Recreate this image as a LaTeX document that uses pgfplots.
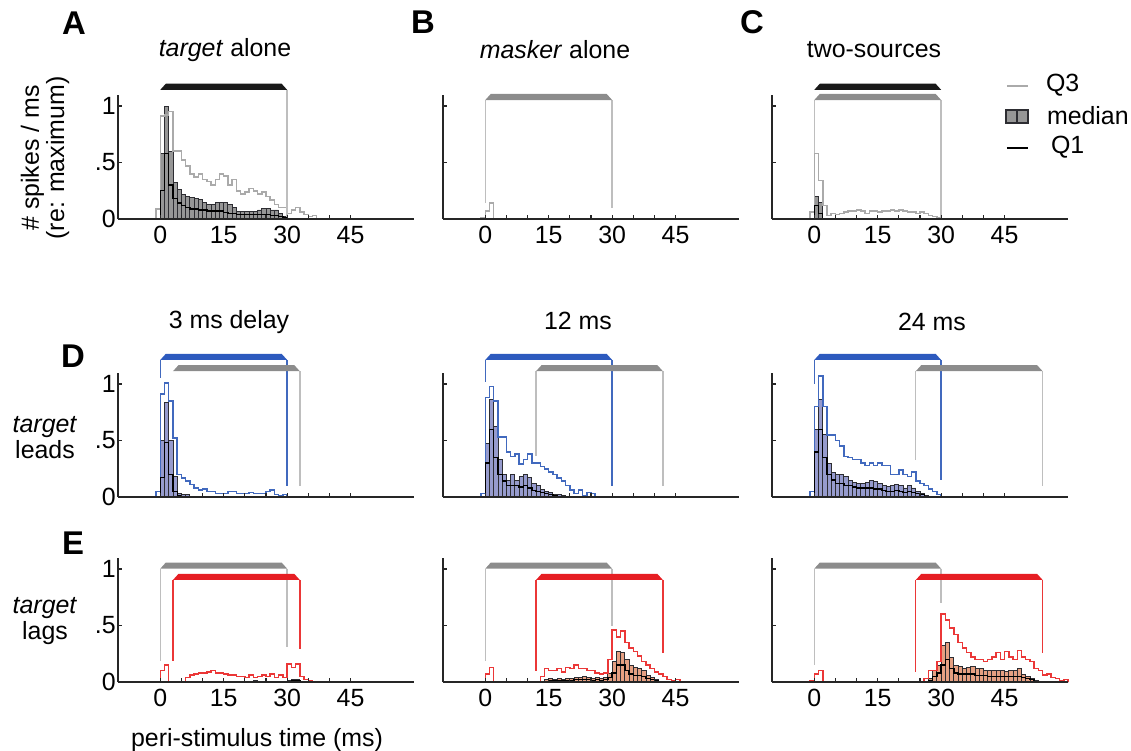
\documentclass[border=0pt]{standalone}
\usepackage{fontspec}
\setmainfont{Liberation Sans}
\usepackage{pgfplots}
\usepackage{pgfplotstable}
\pgfplotsset{compat=1.18}

\definecolor{q3gray}{RGB}{170,170,170}
\definecolor{medgray}{RGB}{150,150,150}
\definecolor{edge}{RGB}{45,45,50}
\definecolor{lgray}{RGB}{190,190,190}
\definecolor{sgray}{RGB}{140,140,140}
\definecolor{sblack}{RGB}{25,25,25}
\definecolor{bline}{RGB}{65,105,190}
\definecolor{bbar}{RGB}{45,90,190}
\definecolor{bfill}{RGB}{150,155,205}
\definecolor{rline}{RGB}{235,55,55}
\definecolor{rbar}{RGB}{230,30,35}
\definecolor{rfill}{RGB}{230,160,130}

\newcommand{\fs}{\fontsize{12.5}{13}\selectfont}

% histograms: bin left edge, Q3, median, Q1
\pgfplotstableread{
x q3 med q1
-2 0 0 0
-1 0.09 0 0
0 0.91 0.58 0.25
1 0.92 1.00 0.58
2 0.95 0.60 0.30
3 0.60 0.32 0.18
4 0.60 0.26 0.14
5 0.52 0.22 0.12
6 0.47 0.20 0.10
7 0.40 0.19 0.09
8 0.37 0.18 0.09
9 0.40 0.17 0.08
10 0.35 0.15 0.08
11 0.33 0.13 0.07
12 0.30 0.13 0.07
13 0.35 0.15 0.07
14 0.40 0.15 0.07
15 0.38 0.15 0.06
16 0.30 0.13 0.05
17 0.35 0.10 0.05
18 0.25 0.07 0.04
19 0.22 0.07 0.04
20 0.24 0.07 0.04
21 0.27 0.07 0.04
22 0.25 0.07 0.04
23 0.22 0.08 0.04
24 0.24 0.09 0.04
25 0.20 0.09 0.04
26 0.17 0.08 0.03
27 0.13 0.08 0.03
28 0.10 0.05 0.02
29 0.10 0.02 0.01
30 0.05 0 0
31 0.08 0 0
32 0.10 0 0
33 0.06 0 0
34 0.04 0 0
35 0.02 0 0
36 0.03 0 0
37 0 0 0
}\tA
\pgfplotstableread{
x q3 med q1
-2 0 0 0
-1 0.01 0 0
0 0.07 0 0
1 0.14 0 0
2 0 0 0
}\tB
\pgfplotstableread{
x q3 med q1
-2 0 0 0
-1 0.06 0 0
0 0.58 0.20 0.12
1 0.34 0.15 0.05
2 0.12 0 0
3 0.03 0 0
4 0.05 0 0
5 0.04 0 0
6 0.05 0 0
7 0.06 0 0
8 0.07 0 0
9 0.07 0 0
10 0.08 0 0
11 0.07 0 0
12 0.05 0 0
13 0.07 0 0
14 0.07 0 0
15 0.06 0 0
16 0.07 0 0
17 0.07 0 0
18 0.08 0 0
19 0.07 0 0
20 0.08 0 0
21 0.07 0 0
22 0.06 0 0
23 0.06 0 0
24 0.05 0 0
25 0.06 0 0
26 0.05 0 0
27 0.03 0 0
28 0.02 0 0
29 0.01 0 0
30 0 0 0
}\tC
\pgfplotstableread{
x q3 med q1
-2 0 0 0
-1 0.05 0 0
0 0.91 0.50 0.17
1 1.01 0.84 0.48
2 0.85 0.50 0.20
3 0.52 0.18 0.05
4 0.20 0.03 0.01
5 0.17 0.02 0
6 0.14 0.02 0
7 0.11 0 0
8 0.08 0 0
9 0.06 0 0
10 0.07 0 0
11 0.05 0 0
12 0.05 0 0
13 0.03 0 0
14 0.03 0 0
15 0.03 0 0
16 0.05 0 0
17 0.05 0 0
18 0.03 0 0
19 0.03 0 0
20 0.03 0 0
21 0.04 0 0
22 0.03 0 0
23 0.03 0 0
24 0.03 0 0
25 0.05 0 0
26 0.06 0 0
27 0.02 0 0
28 0.01 0 0
29 0.02 0 0
30 0 0 0
}\tDa
\pgfplotstableread{
x q3 med q1
-2 0 0 0
-1 0.03 0 0
0 0.88 0.47 0.30
1 0.98 0.86 0.60
2 0.85 0.62 0.35
3 0.53 0.33 0.20
4 0.53 0.20 0.14
5 0.40 0.15 0.10
6 0.36 0.20 0.10
7 0.38 0.15 0.10
8 0.29 0.18 0.09
9 0.33 0.20 0.10
10 0.38 0.17 0.08
11 0.30 0.12 0.06
12 0.30 0.10 0.05
13 0.27 0.07 0.04
14 0.25 0.05 0.03
15 0.22 0.04 0.02
16 0.20 0.02 0.01
17 0.17 0.02 0
18 0.14 0.01 0
19 0.10 0 0
20 0.06 0 0
21 0.03 0 0
22 0.06 0 0
23 0.01 0 0
24 0.04 0 0
25 0.03 0 0
26 0 0 0
}\tDb
\pgfplotstableread{
x q3 med q1
-2 0 0 0
-1 0.05 0 0
0 0.80 0.60 0.40
1 1.07 0.86 0.60
2 0.80 0.55 0.35
3 0.55 0.30 0.20
4 0.55 0.22 0.15
5 0.50 0.20 0.12
6 0.45 0.20 0.12
7 0.36 0.18 0.10
8 0.35 0.15 0.10
9 0.33 0.13 0.09
10 0.33 0.12 0.08
11 0.30 0.12 0.08
12 0.28 0.13 0.08
13 0.30 0.15 0.08
14 0.28 0.14 0.07
15 0.30 0.12 0.07
16 0.28 0.10 0.06
17 0.28 0.09 0.05
18 0.20 0.10 0.05
19 0.20 0.11 0.06
20 0.24 0.10 0.05
21 0.20 0.08 0.04
22 0.18 0.10 0.05
23 0.22 0.08 0.04
24 0.14 0.05 0.03
25 0.12 0.03 0.02
26 0.10 0.01 0
27 0.07 0 0
28 0.05 0 0
29 0.02 0 0
30 0 0 0
}\tDc
\pgfplotstableread{
x q3 med q1
-2 0 0 0
0 0.10 0 0
1 0.15 0 0
2 0 0 0
6 0.04 0 0
7 0.06 0 0
8 0.07 0 0
9 0.08 0 0
10 0.08 0 0
11 0.09 0 0
12 0.10 0 0
13 0.08 0 0
14 0.08 0 0
15 0.07 0 0
16 0.06 0 0
17 0.06 0 0
18 0.05 0 0
19 0.05 0 0
20 0.04 0 0
21 0.06 0 0
22 0.04 0.01 0
23 0.05 0 0
24 0.06 0 0
25 0.05 0 0
26 0.07 0 0
27 0.04 0 0
28 0.06 0 0
29 0.04 0 0
30 0.16 0.01 0
31 0.13 0.02 0.01
32 0.16 0.02 0.01
33 0.05 0 0
34 0.02 0 0
35 0.01 0 0
36 0 0 0
}\tEa
\pgfplotstableread{
x q3 med q1
-2 0 0 0
0 0.07 0 0
1 0.13 0 0
2 0 0 0
13 0.05 0 0
14 0.12 0.02 0
15 0.10 0.03 0.01
16 0.10 0.02 0.01
17 0.12 0.03 0.01
18 0.09 0.02 0.01
19 0.13 0.03 0.01
20 0.12 0.03 0.01
21 0.15 0.04 0.02
22 0.12 0.04 0.02
23 0.12 0.05 0.02
24 0.10 0.04 0.02
25 0.10 0.03 0.01
26 0.08 0.04 0.02
27 0.07 0.03 0.01
28 0.08 0.04 0.02
29 0.20 0.08 0.04
30 0.46 0.18 0.08
31 0.40 0.27 0.15
32 0.45 0.26 0.15
33 0.35 0.20 0.10
34 0.30 0.15 0.07
35 0.27 0.13 0.06
36 0.23 0.12 0.06
37 0.18 0.10 0.05
38 0.15 0.06 0.03
39 0.12 0.04 0.02
40 0.09 0.02 0.01
41 0.07 0 0
42 0.05 0 0
43 0.02 0 0
44 0.01 0 0
45 0.02 0 0
46 0 0 0
}\tEb
\pgfplotstableread{
x q3 med q1
-2 0 0 0
-1 0.01 0 0
0 0.07 0 0
1 0.10 0 0
2 0 0 0
26 0.03 0 0
27 0.10 0.03 0.01
28 0.10 0.10 0.05
29 0.18 0.15 0.08
30 0.60 0.32 0.15
31 0.55 0.35 0.20
32 0.48 0.22 0.12
33 0.42 0.15 0.08
34 0.35 0.14 0.07
35 0.30 0.12 0.07
36 0.26 0.13 0.07
37 0.22 0.14 0.07
38 0.20 0.12 0.06
39 0.20 0.12 0.06
40 0.18 0.10 0.06
41 0.20 0.10 0.05
42 0.22 0.10 0.05
43 0.26 0.10 0.05
44 0.20 0.10 0.05
45 0.27 0.09 0.05
46 0.22 0.10 0.05
47 0.20 0.10 0.05
48 0.28 0.12 0.05
49 0.22 0.07 0.04
50 0.20 0.05 0.03
51 0.18 0.03 0.02
52 0.12 0.01 0
53 0.10 0 0
54 0.06 0 0
55 0.07 0 0
56 0.04 0 0
57 0.03 0 0
58 0.01 0 0
59 0.02 0 0
60 0 0 0
}\tEc

\pgfplotsset{
  pan/.style={
    scale only axis, width=148bp, height=62.15bp,
    anchor=south west,
    xmin=-10, xmax=60, ymin=0, ymax=1.1,
    axis x line*=bottom, axis y line*=left,
    axis line style={-, line width=0.8bp, black!85},
    xtick={0,5,...,45}, xticklabels={0,,,15,,,30,,,45},
    ytick={0,0.5,1}, yticklabels={0,.5,1},
    tick align=inside, major tick length=2.2bp,
    tick style={black!85, line width=0.6bp},
    tick label style={font=\fs},
    yticklabel style={inner xsep=1bp},
    clip=false, axis on top,
  },
  nox/.style={xticklabels={}},
  noy/.style={yticklabels={}},
}

\newcommand{\hist}[3]{%
  \addplot[ybar interval, fill=#2, draw=edge, line width=0.45bp] table[x=x,y=med]{#1};
  \addplot[const plot, draw=#3, line width=0.75bp] table[x=x,y=q3]{#1};
  \addplot[const plot, draw=black, line width=0.7bp] table[x=x,y=q1]{#1};
}

\begin{document}
\begin{tikzpicture}
\useasboundingbox (0bp,0bp) rectangle (565.5bp,-375.5bp);
\clip (0bp,0bp) rectangle (565.5bp,-375.5bp);

% ---- row A-C
\begin{axis}[pan, at={(59bp,-109.5bp)}]
  \hist{\tA}{medgray}{q3gray}
  \addplot[lgray, line width=0.7bp] coordinates {(30,1.143) (30,0.02)};
  \addplot[draw=none, fill=sblack] coordinates {(0,1.143) (1.3,1.197) (28.7,1.197) (30,1.143)} -- cycle;
\end{axis}
\begin{axis}[pan, noy, at={(221.5bp,-109.5bp)}]
  \hist{\tB}{medgray}{q3gray}
  \addplot[lgray, line width=0.7bp] coordinates {(0,1.053) (0,0.14)};
  \addplot[lgray, line width=0.7bp] coordinates {(30,1.053) (30,0.10)};
  \addplot[draw=none, fill=sgray] coordinates {(0,1.053) (1.3,1.107) (28.7,1.107) (30,1.053)} -- cycle;
\end{axis}
\begin{axis}[pan, noy, at={(386bp,-109.5bp)}]
  \hist{\tC}{medgray}{q3gray}
  \addplot[lgray, line width=0.7bp] coordinates {(0,1.053) (0,0.58)};
  \addplot[lgray, line width=0.7bp] coordinates {(30,1.053) (30,0.015)};
  \addplot[draw=none, fill=sblack] coordinates {(0,1.143) (1.3,1.197) (28.7,1.197) (30,1.143)} -- cycle;
  \addplot[draw=none, fill=sgray] coordinates {(0,1.053) (1.3,1.107) (28.7,1.107) (30,1.053)} -- cycle;
\end{axis}

% ---- row D
\begin{axis}[pan, nox, at={(59bp,-248.5bp)}]
  \hist{\tDa}{bfill}{bline}
  \addplot[bline, line width=0.7bp] coordinates {(0,1.213) (0,1.05)};
  \addplot[bline, line width=0.7bp] coordinates {(30,1.213) (30,0.10)};
  \addplot[lgray, line width=0.7bp] coordinates {(33,1.113) (33,0.10)};
  \addplot[draw=none, fill=bbar] coordinates {(0,1.213) (1.3,1.267) (28.7,1.267) (30,1.213)} -- cycle;
  \addplot[draw=none, fill=sgray] coordinates {(3,1.113) (4.3,1.167) (31.7,1.167) (33,1.113)} -- cycle;
\end{axis}
\begin{axis}[pan, nox, noy, at={(221.5bp,-248.5bp)}]
  \hist{\tDb}{bfill}{bline}
  \addplot[bline, line width=0.7bp] coordinates {(0,1.213) (0,1.02)};
  \addplot[bline, line width=0.7bp] coordinates {(30,1.213) (30,0.10)};
  \addplot[lgray, line width=0.7bp] coordinates {(12,1.113) (12,0.36)};
  \addplot[lgray, line width=0.7bp] coordinates {(42,1.113) (42,0.10)};
  \addplot[draw=none, fill=bbar] coordinates {(0,1.213) (1.3,1.267) (28.7,1.267) (30,1.213)} -- cycle;
  \addplot[draw=none, fill=sgray] coordinates {(12,1.113) (13.3,1.167) (40.7,1.167) (42,1.113)} -- cycle;
\end{axis}
\begin{axis}[pan, nox, noy, at={(386bp,-248.5bp)}]
  \hist{\tDc}{bfill}{bline}
  \addplot[bline, line width=0.7bp] coordinates {(0,1.213) (0,1.00)};
  \addplot[bline, line width=0.7bp] coordinates {(30,1.213) (30,0.15)};
  \addplot[lgray, line width=0.7bp] coordinates {(24,1.113) (24,0.33)};
  \addplot[lgray, line width=0.7bp] coordinates {(54,1.113) (54,0.10)};
  \addplot[draw=none, fill=bbar] coordinates {(0,1.213) (1.3,1.267) (28.7,1.267) (30,1.213)} -- cycle;
  \addplot[draw=none, fill=sgray] coordinates {(24,1.113) (25.3,1.167) (52.7,1.167) (54,1.113)} -- cycle;
\end{axis}

% ---- row E
\begin{axis}[pan, at={(59bp,-341bp)}]
  \hist{\tEa}{rfill}{rline}
  \addplot[lgray, line width=0.7bp] coordinates {(0,1.003) (0,0.19)};
  \addplot[lgray, line width=0.7bp] coordinates {(30,1.003) (30,0.31)};
  \addplot[rline, line width=0.7bp] coordinates {(3,0.903) (3,0.19)};
  \addplot[rline, line width=0.7bp] coordinates {(33,0.903) (33,0.29)};
  \addplot[draw=none, fill=sgray] coordinates {(0,1.003) (1.3,1.057) (28.7,1.057) (30,1.003)} -- cycle;
  \addplot[draw=none, fill=rbar] coordinates {(3,0.903) (4.3,0.957) (31.7,0.957) (33,0.903)} -- cycle;
\end{axis}
\begin{axis}[pan, noy, at={(221.5bp,-341bp)}]
  \hist{\tEb}{rfill}{rline}
  \addplot[lgray, line width=0.7bp] coordinates {(0,1.003) (0,0.19)};
  \addplot[lgray, line width=0.7bp] coordinates {(30,1.003) (30,0.50)};
  \addplot[rline, line width=0.7bp] coordinates {(12,0.903) (12,0.10)};
  \addplot[rline, line width=0.7bp] coordinates {(42,0.903) (42,0.26)};
  \addplot[draw=none, fill=sgray] coordinates {(0,1.003) (1.3,1.057) (28.7,1.057) (30,1.003)} -- cycle;
  \addplot[draw=none, fill=rbar] coordinates {(12,0.903) (13.3,0.957) (40.7,0.957) (42,0.903)} -- cycle;
\end{axis}
\begin{axis}[pan, noy, at={(386bp,-341bp)}]
  \hist{\tEc}{rfill}{rline}
  \addplot[lgray, line width=0.7bp] coordinates {(0,1.003) (0,0.15)};
  \addplot[lgray, line width=0.7bp] coordinates {(30,1.003) (30,0.70)};
  \addplot[rline, line width=0.7bp] coordinates {(24,0.903) (24,0.09)};
  \addplot[rline, line width=0.7bp] coordinates {(54,0.903) (54,0.26)};
  \addplot[draw=none, fill=sgray] coordinates {(0,1.003) (1.3,1.057) (28.7,1.057) (30,1.003)} -- cycle;
  \addplot[draw=none, fill=rbar] coordinates {(24,0.903) (25.3,0.957) (52.7,0.957) (54,0.903)} -- cycle;
\end{axis}

% ---- texts, in image pixels
\begin{scope}[x=0.5bp, y=-0.5bp, font=\fs]
  \foreach \l/\px/\py in {A/74/23, B/423/22, C/752/22, D/73/356, E/73/543}
    \node[font=\bfseries\fontsize{16.5}{17}\selectfont] at (\px,\py) {\l};
  \node at (225,50) {\textit{target} alone};
  \node at (555,50) {\textit{masker} alone};
  \node at (874,50) {two-sources};
  \node at (229,322) {3 ms delay};
  \node at (578,321) {12 ms};
  \node at (932,322) {24 ms};
  \node[rotate=90, align=center, font=\fontsize{12.5}{11.5}\selectfont] at (45,158) {\# spikes / ms\\(re: maximum)};
  \node[align=center] at (45,438) {\textit{target}\\leads};
  \node[align=center] at (45,621) {\textit{target}\\lags};
  \node at (257,740) {peri-stimulus time (ms)};
  % legend
  \draw[q3gray, line width=0.9bp] (1007,86) -- (1028,86);
  \node[anchor=west] at (1039,85) {Q3};
  \draw[fill=medgray, draw=edge, line width=0.6bp] (1006,110) rectangle (1017,123);
  \draw[fill=medgray, draw=edge, line width=0.6bp] (1017,110) rectangle (1028,123);
  \node[anchor=west] at (1040,116) {median};
  \draw[black, line width=0.9bp] (1007,148) -- (1028,148);
  \node[anchor=west] at (1044,147) {Q1};
\end{scope}
\end{tikzpicture}
\end{document}
